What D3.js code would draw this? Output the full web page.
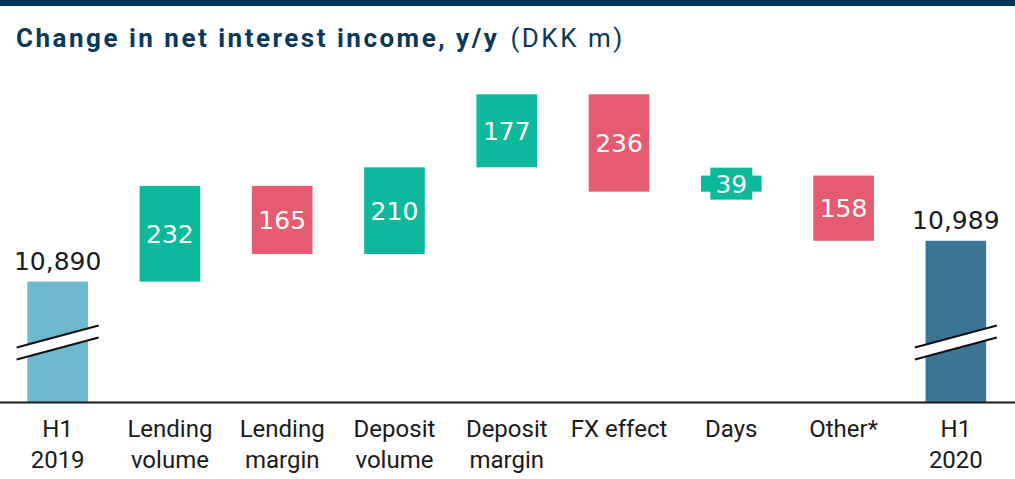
<!DOCTYPE html>
<html>
<head>
<meta charset="utf-8">
<script src="https://cdn.jsdelivr.net/npm/d3@7"></script>
<style>
  html, body { margin: 0; padding: 0; background: #fff; }
  svg { display: block; }
</style>
</head>
<body>
<svg id="chart" width="1015" height="479"></svg>
<script>
// data
const categories = [
    ["H1", "2019"], ["Lending", "volume"], ["Lending", "margin"],
    ["Deposit", "volume"], ["Deposit", "margin"], ["FX effect"],
    ["Days"], ["Other*"], ["H1", "2020"]
];
const startValue = 10890;
const changes = [232, -165, 210, 177, -236, 39, -158];
const endValue = 10989;
const valueLabels = ["10,890", "232", "165", "210", "177", "236", "39", "158", "10,989"];

const colors = { start: "#6db9cd", end: "#3b7696", up: "#0cb99d", down: "#e55b6f" };
const navy = "#0a3858";

// build waterfall steps
var steps = [];
steps.push({ cat: 0, y0: null, y1: startValue, type: "start" });
var running = startValue;
changes.forEach(function(c, i) {
    steps.push({ cat: i + 1, y0: running, y1: running + c, type: c >= 0 ? "up" : "down" });
    running += c;
});
steps.push({ cat: categories.length - 1, y0: null, y1: endValue, type: "end" });

const svg = d3.select("#chart");
const baseline = 402.5;

// top band
svg.append("rect")
    .attr("x", 0).attr("y", 0)
    .attr("width", 1015).attr("height", 6)
    .attr("fill", "#00375a");

// title
var title = svg.append("text")
    .attr("x", 16).attr("y", 47)
    .attr("fill", navy)
    .style("font-family", "Roboto, sans-serif")
    .style("font-size", "26px")
    .style("letter-spacing", "2.5px");
title.append("tspan")
    .style("font-weight", "bold")
    .text("Change in net interest income, y/y");
title.append("tspan")
    .attr("dx", 11)
    .text("(DKK m)");

// scales (y axis is broken, so the floor sits above zero)
var x = d3.scaleBand()
    .domain(d3.range(categories.length))
    .range([1.5, 1012])
    .paddingInner(0.46)
    .paddingOuter(0.23);

var y = d3.scaleLinear()
    .domain([10597, 11344])
    .range([baseline, 94.3]);

// bars
svg.selectAll("rect.bar")
    .data(steps)
    .enter()
    .append("rect")
        .attr("class", "bar")
        .attr("x", function(d){ return x(d.cat) })
        .attr("width", x.bandwidth())
        .attr("y", function(d){ return d.y0 === null ? y(d.y1) : y(Math.max(d.y0, d.y1)) })
        .attr("height", function(d){
            return d.y0 === null ? baseline - y(d.y1) : Math.abs(y(d.y0) - y(d.y1))
        })
        .attr("fill", function(d){ return colors[d.type] });

// small bars get a label box behind the number
const minLabelHeight = 30;
svg.selectAll("rect.labelbox")
    .data(steps.filter(function(d){ return d.y0 !== null && Math.abs(y(d.y0) - y(d.y1)) < minLabelHeight }))
    .enter()
    .append("rect")
        .attr("class", "labelbox")
        .attr("x", function(d){ return x(d.cat) + x.bandwidth() / 2 - 21 })
        .attr("width", 42)
        .attr("y", function(d){ return (y(d.y0) + y(d.y1)) / 2 - 16 })
        .attr("height", 32)
        .attr("fill", function(d){ return colors[d.type] });

// axis line
svg.append("line")
    .attr("x1", 0).attr("x2", 1015)
    .attr("y1", baseline).attr("y2", baseline)
    .attr("stroke", "#1a1a1a")
    .attr("stroke-width", 2);

// break marks on the total bars
var breakY = baseline - 60;
svg.selectAll("g.break")
    .data(steps.filter(function(d){ return d.y0 === null }))
    .enter()
    .append("g")
        .attr("class", "break")
        .attr("transform", function(d){ return "translate(" + (x(d.cat) + x.bandwidth() / 2) + "," + breakY + ")" })
        .each(function() {
            var g = d3.select(this);
            g.append("path")
                .attr("d", "M-41,5 L41,-17 L41,-5 L-41,17 Z")
                .attr("fill", "#fff");
            g.append("line")
                .attr("x1", -41).attr("y1", 5).attr("x2", 41).attr("y2", -17)
                .attr("stroke", "#111").attr("stroke-width", 2);
            g.append("line")
                .attr("x1", -41).attr("y1", 17).attr("x2", 41).attr("y2", -5)
                .attr("stroke", "#111").attr("stroke-width", 2);
        });

// value labels
svg.selectAll("text.value")
    .data(steps)
    .enter()
    .append("text")
        .attr("class", "value")
        .attr("x", function(d){ return x(d.cat) + x.bandwidth() / 2 })
        .attr("y", function(d){
            if (d.y0 === null) return y(d.y1) - 12;
            return (y(d.y0) + y(d.y1)) / 2;
        })
        .attr("dy", function(d){ return d.y0 === null ? 0 : "0.36em" })
        .attr("text-anchor", "middle")
        .attr("fill", function(d){ return d.y0 === null ? "#1a1a1a" : "#fff" })
        .style("font-family", "'DejaVu Sans', sans-serif")
        .style("font-size", "25px")
        .text(function(d, i){ return valueLabels[i] });

// category labels
svg.selectAll("text.cat")
    .data(categories)
    .enter()
    .append("text")
        .attr("class", "cat")
        .attr("x", function(d, i){ return x(i) + x.bandwidth() / 2 })
        .attr("y", 437)
        .attr("text-anchor", "middle")
        .attr("fill", "#1a1a1a")
        .style("font-family", "Roboto, sans-serif")
        .style("font-size", "24px")
        .each(function(d) {
            var t = d3.select(this);
            d.forEach(function(line, j) {
                t.append("tspan")
                    .attr("x", t.attr("x"))
                    .attr("dy", j === 0 ? 0 : 31)
                    .text(line);
            });
        });
</script>
</body>
</html>
